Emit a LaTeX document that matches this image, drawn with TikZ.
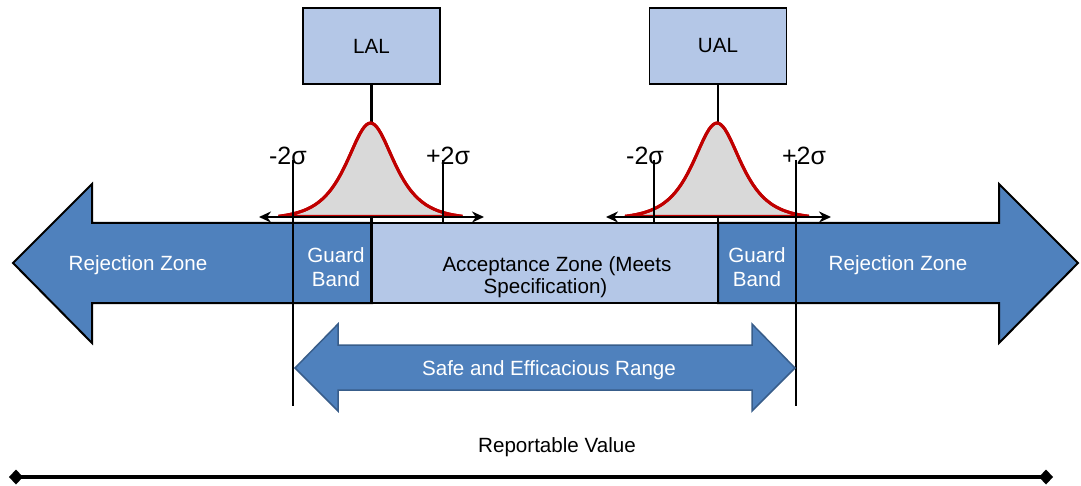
\documentclass[tikz,border=0pt]{standalone}
\usepackage{fontspec}
\setmainfont{Liberation Sans}
\usetikzlibrary{arrows.meta}
\definecolor{darkblue}{HTML}{4F81BD}
\definecolor{lightblue}{HTML}{B4C7E7}
\definecolor{edgeblue}{HTML}{385D8A}
\definecolor{curvered}{HTML}{C00000}
\definecolor{bellgray}{HTML}{D9D9D9}
\tikzset{
  txt/.style={font=\fontsize{20.6}{24.5}\selectfont, inner sep=0pt, align=center},
  wtxt/.style={txt, text=white},
  sigtxt/.style={font=\fontsize{25}{30}\selectfont, inner sep=0pt},
  zonearrow/.style={fill=darkblue, draw=black, line width=2pt, line join=miter},
  acceptbox/.style={fill=lightblue, draw=black, line width=2pt},
  limbox/.style={fill=lightblue, draw=black, line width=1.5pt, minimum width=137pt, minimum height=76pt, inner sep=0pt, font=\fontsize{20.6}{24}\selectfont},
  vline/.style={draw=black, line width=2.6pt},
  bellcurve/.style={draw=curvered, fill=bellgray, line width=3pt},
  spreadarrow/.style={draw=black, line width=2pt, {Stealth[length=12pt,width=11pt]}-{Stealth[length=12pt,width=11pt]}},
  saferange/.style={fill=darkblue, draw=edgeblue, line width=1.5pt, line join=miter},
  repaxis/.style={draw=black, line width=4pt, {Diamond[length=14pt,width=15pt]}-{Diamond[length=14pt,width=15pt]}}
}
\begin{document}
\begin{tikzpicture}[x=1pt,y=-1pt,
  declare function={bellh(\t)=93*(2/(exp(\t/21.3)+exp(-\t/21.3))-0.0294)/0.9706;}]
\useasboundingbox (0,0) rectangle (1081,486);
% zones
\draw[zonearrow] (13,263) -- (92,184) -- (92,223) -- (372,223) -- (372,303) -- (92,303) -- (92,343) -- cycle;
\draw[zonearrow] (718,223) -- (999,223) -- (999,184) -- (1078,263) -- (999,343) -- (999,303) -- (718,303) -- cycle;
\draw[acceptbox] (372,223) rectangle (718,303);
\node[wtxt] (rejL) at (138,265) {Rejection Zone};
\node[wtxt] (rejR) at (898,265) {Rejection Zone};
\node[wtxt] (gbL) at (336,267) {Guard\\Band};
\node[wtxt] (gbR) at (757,267) {Guard\\Band};
\node[txt, font=\fontsize{20.6}{22.5}\selectfont] (acc) at (557,277) {Acceptance Zone (Meets\\\hspace*{-23pt}Specification)};
% limit boxes
\node[limbox] (lal) at (371.5,46) {LAL};
\node[limbox] (ual) at (718,46) {UAL};
\coordinate (lalb) at (371.5,303);
\coordinate (ualb) at (718,303);
\draw[vline] (lal.south) -- (lalb);
\draw[vline] (ual.south) -- (ualb);
% bell curves
\draw[bellcurve] plot[domain=-92:92, samples=93, smooth] ({370.5+\x},{216-bellh(\x)}) -- cycle;
\draw[bellcurve, fill=none] plot[domain=-92:92, samples=93, smooth] ({370.5+\x},{216-bellh(\x)});
\draw[bellcurve] plot[domain=-92:92, samples=93, smooth] ({717+\x},{216-bellh(\x)}) -- cycle;
\draw[bellcurve, fill=none] plot[domain=-92:92, samples=93, smooth] ({717+\x},{216-bellh(\x)});
% spread arrows
\coordinate (sL1) at (259,217); \coordinate (sL2) at (484,217);
\coordinate (sR1) at (606,217); \coordinate (sR2) at (831,217);
\draw[spreadarrow] (sL1) -- (sL2);
\draw[spreadarrow] (sR1) -- (sR2);
% sigma lines
\coordinate (a1) at (293,160); \coordinate (a2) at (293,406);
\coordinate (b1) at (443,160); \coordinate (b2) at (443,223);
\coordinate (c1) at (654,160); \coordinate (c2) at (654,223);
\coordinate (d1) at (796,160); \coordinate (d2) at (796,406);
\draw[vline] (a1) -- (a2);
\draw[vline] (b1) -- (b2);
\draw[vline] (c1) -- (c2);
\draw[vline] (d1) -- (d2);
\node[sigtxt] (s1) at (288,156) {-2σ};
\node[sigtxt] (s2) at (448,156) {+2σ};
\node[sigtxt] (s3) at (645,156) {-2σ};
\node[sigtxt] (s4) at (804,156) {+2σ};
% safe range
\draw[saferange] (295,368) -- (338,324) -- (338,345) -- (752,345) -- (752,324) -- (795,368) -- (752,411) -- (752,390) -- (338,390) -- (338,411) -- cycle;
\node[wtxt] (safe) at (549,370) {Safe and Efficacious Range};
% reportable value
\node[txt] (rep) at (557,447) {Reportable Value};
\coordinate (r1) at (9,477); \coordinate (r2) at (1053,477);
\draw[repaxis] (r1) -- (r2);
\end{tikzpicture}
\end{document}
